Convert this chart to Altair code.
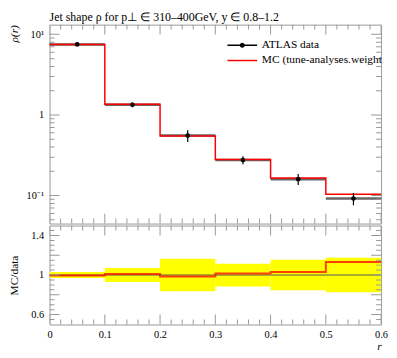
import altair as alt
import pandas as pd

# ---------------- data ----------------
r_lo = [0.0, 0.1, 0.2, 0.3, 0.4, 0.5]
r_hi = [0.1, 0.2, 0.3, 0.4, 0.5, 0.6]
r_mid = [0.05, 0.15, 0.25, 0.35, 0.45, 0.55]
data_rho = [7.50, 1.34, 0.555, 0.276, 0.160, 0.092]
data_rel_err = [0.03, 0.07, 0.165, 0.115, 0.155, 0.175]
mc_rho = [7.47, 1.355, 0.547, 0.280, 0.165, 0.104]

x_domain = [0.0, 0.6]
rho_domain = [0.045, 13.2]
ratio_domain = [0.5, 1.5]
x_major_ticks = [0.0, 0.1, 0.2, 0.3, 0.4, 0.5, 0.6]
x_minor_ticks = [0.02, 0.04, 0.06, 0.08, 0.12, 0.14, 0.16, 0.18, 0.22, 0.24, 0.26, 0.28,
                 0.32, 0.34, 0.36, 0.38, 0.42, 0.44, 0.46, 0.48, 0.52, 0.54, 0.56, 0.58]
rho_major_ticks = [0.1, 1.0, 10.0]
rho_minor_ticks = [0.05, 0.06, 0.07, 0.08, 0.09, 0.2, 0.3, 0.4, 0.5, 0.6, 0.7, 0.8, 0.9,
                   2, 3, 4, 5, 6, 7, 8, 9]
ratio_major_ticks = [0.6, 0.8, 1.0, 1.2, 1.4]
ratio_minor_ticks = [0.55, 0.65, 0.7, 0.75, 0.85, 0.9, 0.95, 1.05, 1.1, 1.15, 1.25, 1.3, 1.35, 1.45]
legend_labels = ["ATLAS data", "MC (tune-analyses.weight"]
title_text = "Jet shape ρ for p⊥ ∈ 310–400GeV, y ∈ 0.8–1.2"

# ---------------- tables ----------------
bins = pd.DataFrame({"lo": r_lo, "hi": r_hi, "mid": r_mid, "data": data_rho,
                     "rel": data_rel_err, "mc": mc_rho})
bins["err_lo"] = bins["data"] * (1 - bins["rel"])
bins["err_hi"] = bins["data"] * (1 + bins["rel"])
bins["ratio"] = bins["mc"] / bins["data"]
bins["one"] = bins["data"] / bins["data"]
bins["band_lo"] = 1 - bins["rel"]
bins["band_hi"] = 1 + bins["rel"]

step = pd.DataFrame({"x": r_lo + [r_hi[-1]],
                     "mc": mc_rho + [mc_rho[-1]],
                     "ratio": list(bins["ratio"]) + [bins["ratio"].iloc[-1]]})

W, H1, H2 = 335, 201, 100
SERIF = "Liberation Serif"
FRAME = "#999999"
MAJ, MINL = 20, 10  # tick marks are centred on the frame and half clipped

xs = alt.Scale(domain=x_domain, nice=False, zero=False)
ys_top = alt.Scale(type="log", domain=rho_domain, nice=False)
ys_rat = alt.Scale(domain=ratio_domain, nice=False, zero=False)


def tick_layers(ymaj, ymin, ydomain, yscale):
    res = []
    for vals, ln in ((x_major_ticks, MAJ), (x_minor_ticks, MINL)):
        for edge in ydomain:
            d = pd.DataFrame({"v": vals, "e": [edge] * len(vals)})
            res.append(alt.Chart(d).mark_tick(orient="vertical", size=ln, thickness=1, clip=True,
                                              color=FRAME, opacity=1).encode(
                x=alt.X("v:Q", scale=xs), y=alt.Y("e:Q", scale=yscale)))
    for vals, ln in ((ymaj, MAJ), (ymin, MINL)):
        for edge in x_domain:
            d = pd.DataFrame({"v": vals, "e": [edge] * len(vals)})
            res.append(alt.Chart(d).mark_tick(orient="horizontal", size=ln, thickness=1, clip=True,
                                              color=FRAME, opacity=1).encode(
                y=alt.Y("v:Q", scale=yscale), x=alt.X("e:Q", scale=xs)))
    return res


# ---------------- top panel ----------------
top_axis = alt.Axis(values=rho_major_ticks, ticks=False, domain=False, grid=False,
                    labelExpr="datum.value >= 10 ? '10¹' : (datum.value >= 1 ? '1' : '10⁻¹')",
                    labelPadding=6, labelFlush=False, labelOverlap=False,
                    title="ρ(r)", titleX=-35, titleY=0, titleAlign="right", titleBaseline="middle",
                    titleFontStyle="italic")

hbar = alt.Chart(bins).mark_rule(color="black", opacity=0.6, strokeWidth=2.5).encode(
    x=alt.X("lo:Q", scale=xs, axis=None), x2="hi:Q",
    y=alt.Y("data:Q", scale=ys_top, axis=top_axis))
mc_line = alt.Chart(step).mark_line(color="red", interpolate="step-after", strokeWidth=1.5).encode(
    x=alt.X("x:Q", scale=xs, axis=None), y=alt.Y("mc:Q", scale=ys_top))
verr = alt.Chart(bins).mark_rule(color="black", strokeWidth=1.2).encode(
    x=alt.X("mid:Q", scale=xs), y=alt.Y("err_lo:Q", scale=ys_top), y2="err_hi:Q")
pts = alt.Chart(bins).mark_circle(color="black", size=22, opacity=1).encode(
    x=alt.X("mid:Q", scale=xs), y=alt.Y("data:Q", scale=ys_top))

# legend: an invisible point layer whose colour/shape legend is the visible one
path_data = "M-3,-0.15H3V0.15H-3Z M0.5,0A0.5,0.5 0 1,1 -0.5,0A0.5,0.5 0 1,1 0.5,0Z"
path_mc = "M-3,-0.15H3V0.15H-3Z"
leg = alt.Legend(orient="none", legendX=189, legendY=15, title=None, labelFont=SERIF,
                 labelFontSize=11.5, labelLimit=400, symbolSize=100, symbolOpacity=1,
                 labelOffset=14, rowPadding=2.5, padding=0, symbolStrokeWidth=0)
leg_df = pd.DataFrame({"series": legend_labels, "x": r_mid[:2], "y": data_rho[:2]})
legend_layer = alt.Chart(leg_df).mark_point(filled=True, opacity=0).encode(
    x=alt.X("x:Q", scale=xs), y=alt.Y("y:Q", scale=ys_top),
    color=alt.Color("series:N", scale=alt.Scale(domain=legend_labels, range=["black", "red"]), legend=leg),
    shape=alt.Shape("series:N", scale=alt.Scale(domain=legend_labels, range=[path_data, path_mc]), legend=leg),
)

top = alt.layer(hbar, mc_line, verr, pts, *tick_layers(rho_major_ticks, rho_minor_ticks, rho_domain, ys_top),
                legend_layer).properties(
    width=W, height=H1,
    title=alt.Title(title_text, anchor="start", frame="group", font=SERIF, fontSize=12,
                    fontWeight="normal", offset=1))

# ---------------- ratio panel ----------------
rat_axis = alt.Axis(values=ratio_major_ticks, ticks=False, domain=False, grid=False,
                    labelExpr="datum.value == 1 ? '1' : format(datum.value, '.1f')",
                    labelPadding=6, labelFlush=False, labelOverlap=False,
                    title="MC/data", titleX=-35, titleY=H2 / 2, titleAlign="center",
                    titleBaseline="middle")
x_axis = alt.Axis(values=x_major_ticks, ticks=False, domain=False, grid=False,
                  labelExpr="datum.value == 0 ? '0' : format(datum.value, '.1f')",
                  labelPadding=5, labelFlush=False, labelOverlap=False,
                  title="r", titleAnchor="end", titleFontStyle="italic", titlePadding=1)

band = alt.Chart(bins).mark_rect(color="#ffff00", opacity=1).encode(
    x=alt.X("lo:Q", scale=xs, axis=x_axis), x2="hi:Q",
    y=alt.Y("band_lo:Q", scale=ys_rat, axis=rat_axis), y2="band_hi:Q")
one_line = alt.Chart(bins).mark_rule(color="#555555", strokeWidth=1).encode(
    x=alt.X("lo:Q", scale=xs), x2="hi:Q", y=alt.Y("one:Q", scale=ys_rat))
rat_line = alt.Chart(step).mark_line(color="red", opacity=0.75, interpolate="step-after", strokeWidth=2).encode(
    x=alt.X("x:Q", scale=xs), y=alt.Y("ratio:Q", scale=ys_rat))

ratio = alt.layer(band, one_line, rat_line,
                  *tick_layers(ratio_major_ticks, ratio_minor_ticks, ratio_domain, ys_rat)).properties(
    width=W, height=H2)

chart = alt.vconcat(top, ratio, spacing=0,
                    padding={"left": 0, "top": 0, "right": 0, "bottom": 0}).configure_view(
    stroke=FRAME, strokeWidth=1).configure_axis(
    labelFont=SERIF, titleFont=SERIF, labelFontSize=10.5, titleFontSize=11.5,
    labelColor="black", titleColor="black", titleFontWeight="normal")

chart.save("out.html", embed_options={"renderer": "svg", "actions": False})
